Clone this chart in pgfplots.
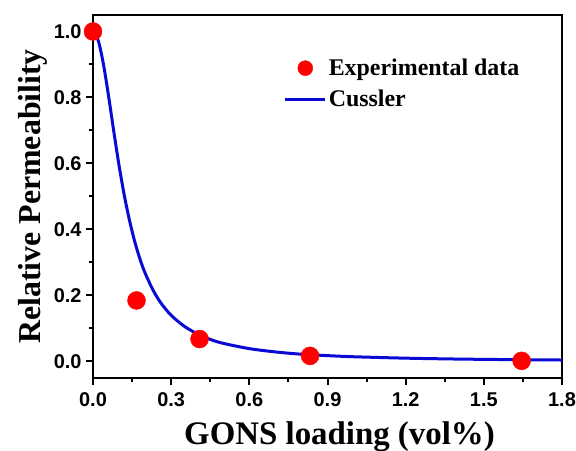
\documentclass[border=0pt]{standalone}
\usepackage{fontspec}
\setmainfont{Liberation Serif}
\newfontfamily\ticksans{Liberation Sans}
\usepackage{pgfplots}
\pgfplotsset{compat=1.18}
\definecolor{markred}{RGB}{255,0,0}
\definecolor{fitblue}{RGB}{10,10,215}
\begin{document}
\begin{tikzpicture}
\begin{axis}[
  name=ax,
  scale only axis,
  width=469bp, height=363bp,
  xmin=0, xmax=1.8, ymin=-0.05, ymax=1.05,
  xtick={0,0.3,...,1.8},
  ytick={0,0.2,...,1.0},
  minor tick num=1,
  tick align=outside,
  major tick length=7bp,
  minor tick length=4bp,
  axis line style={line width=2.2bp},
  every tick/.style={line width=2bp, black},
  tick pos=left,
  /pgf/number format/assume math mode=true,
  /pgf/number format/.cd, fixed, fixed zerofill, precision=1, /pgfplots/.cd,
  tick label style={font=\ticksans\bfseries\fontsize{20}{22}\selectfont},
  xticklabel style={yshift=-4bp},
  yticklabel style={xshift=-1bp},
  xlabel={GONS loading (vol\%)},
  ylabel={Relative Permeability},
  xlabel style={font=\bfseries\fontsize{33}{36}\selectfont, yshift=-8bp, xshift=12bp},
  ylabel style={font=\bfseries\fontsize{32}{35}\selectfont, yshift=0bp},
  legend style={at={(0.40,0.89)}, anchor=north west, draw=none, fill=none,
    font=\bfseries\fontsize{24}{27}\selectfont, row sep=9bp,
    /tikz/every even column/.append style={column sep=4bp}},
  legend cell align=left,
]
% measured relative permeability
\addplot[only marks, mark=*, mark size=9bp, markred, draw=markred,
  legend image code/.code={\fill[markred] (20bp,0bp) circle (7.5bp);}]
  coordinates {
  (0.00,1.000) (0.167,0.185) (0.409,0.068) (0.833,0.017) (1.645,0.002)
  };
% Cussler model curve
\addplot[fitblue, line width=3bp, smooth,
  legend image code/.code={\draw[line width=3bp] (0bp,0bp) -- (40bp,0bp);}]
  coordinates {
  (0.00,1.000) (0.02,0.973) (0.04,0.901) (0.06,0.803) (0.08,0.696)
  (0.10,0.594) (0.12,0.504) (0.14,0.428) (0.16,0.364) (0.18,0.311)
  (0.20,0.268) (0.23,0.217) (0.26,0.178) (0.30,0.140) (0.35,0.107)
  (0.40,0.084) (0.45,0.067) (0.50,0.055) (0.60,0.039) (0.70,0.029)
  (0.80,0.022) (0.90,0.0178) (1.00,0.0144) (1.20,0.0101) (1.40,0.0074)
  (1.60,0.0057) (1.80,0.0045)
  };
\legend{Experimental data, Cussler}
\end{axis}
\pgfresetboundingbox
\path (ax.south west) ++(-93bp,-73bp) coordinate (bl);
\path (ax.north east) ++(14bp,15bp) coordinate (tr);
\useasboundingbox (bl) rectangle (tr);
\end{tikzpicture}
\end{document}
